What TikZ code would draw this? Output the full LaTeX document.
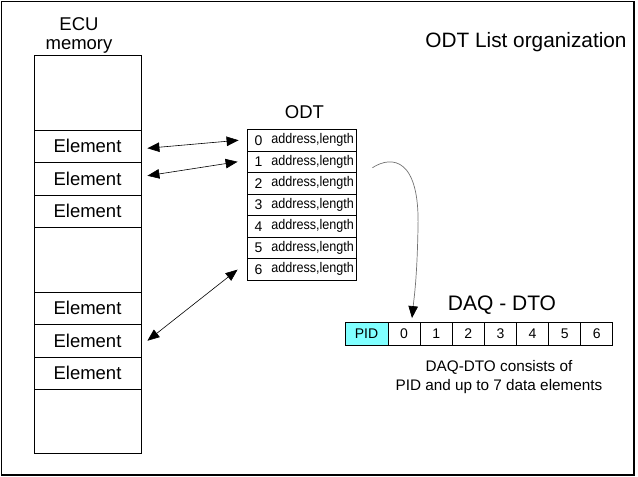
\documentclass[tikz,border=0pt]{standalone}
\usepackage{fontspec}
\setmainfont{Liberation Sans}
\usetikzlibrary{arrows.meta,calc}
\definecolor{pidcyan}{RGB}{128,255,255}
\tikzset{
  px/.style={x=1pt,y=-1pt},
  memrow/.style={draw=black,line width=0.8pt,minimum width=107pt,minimum height=32.5pt,inner sep=0pt,font=\fontsize{18.5}{20}\selectfont},
  odtrow/.style={draw=black,line width=0.8pt,minimum width=109pt,minimum height=21.5pt,inner sep=0pt},
  odttxt/.style={inner sep=0pt,font=\fontsize{14}{15}\selectfont\addfontfeature{FakeStretch=0.9}},
  odtnum/.style={inner sep=0pt,font=\fontsize{14}{15}\selectfont},
  dtocell/.style={draw=black,line width=0.8pt,minimum width=32pt,minimum height=23pt,inner sep=0pt,font=\fontsize{14}{16}\selectfont},
  title/.style={inner sep=0pt,font=\fontsize{18.5}{21}\selectfont},
  link/.style={line width=0.6pt,{Triangle[length=12pt,width=9.5pt]}-{Triangle[length=12pt,width=9.5pt]}},
}
\begin{document}
\begin{tikzpicture}[px]
\useasboundingbox (0,0) rectangle (638,477);
\draw[line width=1.3pt] (1.5,1.5) rectangle (634,475);
% ECU memory
\node[title,align=center] (ecu) at (79,35) {ECU\\[-2pt]memory};
\node[draw,line width=0.8pt,minimum width=107pt,minimum height=398pt,inner sep=0pt] (mem) at (87.5,254) {};
\node[memrow] (e1) at (87.5,146.25) {Element};
\node[memrow] (e2) at (87.5,178.75) {Element};
\node[memrow] (e3) at (87.5,211.25) {Element};
\node[memrow] (e4) at (87.5,308.25) {Element};
\node[memrow] (e5) at (87.5,340.75) {Element};
\node[memrow] (e6) at (87.5,373.25) {Element};
% ODT
\node[title] (odt) at (304.5,112) {ODT};
\foreach \i in {0,...,6}{
  \node[odtrow] (o\i) at (301.5,{140.25+21.5*\i}) {};
  \node[odtnum] (n\i) at ([xshift=12pt]o\i.west) {\i};
  \node[odttxt,anchor=west] (t\i) at ([xshift=24.5pt]o\i.west) {address,length};
}
% title
\node[inner sep=0pt,font=\fontsize{20.8}{22}\selectfont] (ttl) at (526,42) {ODT List organization};
% DAQ-DTO
\node[inner sep=0pt,font=\fontsize{21}{23}\selectfont] (daq) at (502,305) {DAQ - DTO};
\node[dtocell,fill=pidcyan,minimum width=43pt] (pid) at (366.5,334) {PID};
\foreach \i in {0,...,6}{
  \node[dtocell] (d\i) at ({404+32.14*\i},334) {\i};
}
\node[inner sep=0pt,font=\fontsize{15.3}{19}\selectfont,align=center] (note) at (499,377) {DAQ-DTO consists of\\PID and up to 7 data elements};
% links
\draw[link] ([xshift=6pt,yshift=-2pt]e1.east) -- ([xshift=-8pt]o0.west);
\draw[link] ([xshift=6pt,yshift=3pt]e2.east) -- ([xshift=-9pt]o1.west);
\draw[link] ([xshift=6pt,yshift=0pt]e5.east) -- ([xshift=-9pt,yshift=-11.5pt]o6.north west);
\coordinate (cs) at ([xshift=16pt,yshift=-6pt]o1.east);
\coordinate (ce) at ([xshift=8pt,yshift=4pt]d0.north);
\draw[line width=0.7pt,draw=black!55,-{Triangle[length=12pt,width=9.5pt,color=black,fill=black]}] (cs) .. controls (392,155) and (420,158) .. (418,228) .. controls (417,280) and (414,298) .. (ce);
\end{tikzpicture}
\end{document}
